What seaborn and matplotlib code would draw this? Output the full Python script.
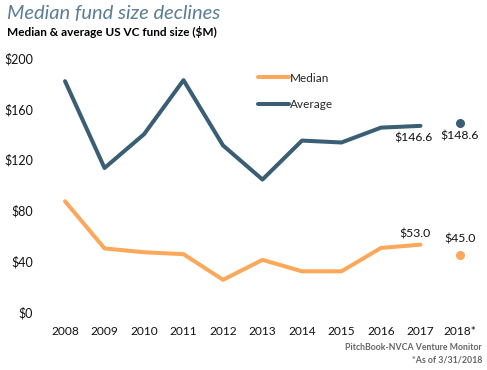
import pandas as pd
import numpy as np
import seaborn as sns
import matplotlib.pyplot as plt

years = [2008, 2009, 2010, 2011, 2012, 2013, 2014, 2015, 2016, 2017]
median = [87.2, 50.0, 47.0, 45.5, 25.3, 41.0, 32.0, 32.0, 50.4, 53.0]
average = [181.8, 113.4, 140.0, 182.6, 131.2, 104.3, 135.0, 133.5, 145.2, 146.6]
ytd_year = 2018
ytd_median = 45.0
ytd_average = 148.6
tick_labels = ['2008', '2009', '2010', '2011', '2012', '2013', '2014', '2015',
               '2016', '2017', '2018*']

ORANGE = '#FBA85B'
NAVY = '#3A5E73'

sns.set_style('white')
plt.rcParams['font.family'] = ['Lato', 'DejaVu Sans']

df = pd.DataFrame({'year': years + years,
                   'value': median + average,
                   'series': ['Median'] * len(years) + ['Average'] * len(years)})

fig = plt.figure(figsize=(4.87, 3.70), dpi=100)
ax = fig.add_axes([0.093, 0.157, 0.892, 0.686])

sns.lineplot(data=df, x='year', y='value', hue='series',
             palette={'Median': ORANGE, 'Average': NAVY},
             linewidth=2.9, ax=ax)
ax.scatter([ytd_year], [ytd_average], color=NAVY, s=30, zorder=3)
ax.scatter([ytd_year], [ytd_median], color=ORANGE, s=30, zorder=3)

ax.set_xlim(2007.5, 2018.5)
ax.set_ylim(0, 200)
ax.set_xticks(years + [ytd_year])
ax.set_xticklabels(tick_labels)
ax.set_yticks([0, 40, 80, 120, 160, 200])
ax.set_yticklabels(['$%d' % v for v in [0, 40, 80, 120, 160, 200]])
ax.tick_params(length=0, labelsize=9, colors='#111111')
ax.tick_params(axis='x', labelsize=8.6, pad=10)
ax.tick_params(axis='y', pad=9)
ax.set_xlabel('')
ax.set_ylabel('')
sns.despine(left=True, bottom=True)

# value labels
ax.text(2017.3, average[-1] - 5, '$%.1f' % average[-1], ha='right', va='top',
        fontsize=8.8, color='#111111')
ax.text(ytd_year, ytd_average - 6, '$%.1f' % ytd_average, ha='center', va='top',
        fontsize=8.8, color='#111111')
ax.text(2017 - 0.15, median[-1] + 4, '$%.1f' % median[-1], ha='center', va='bottom',
        fontsize=8.8, color='#111111')
ax.text(ytd_year, ytd_median + 8, '$%.1f' % ytd_median, ha='center', va='bottom',
        fontsize=8.8, color='#111111')

order = ['Median', 'Average']
handles, labels = ax.get_legend_handles_labels()
hmap = dict(zip(labels, handles))
ax.legend([hmap[k] for k in order], order, loc='upper left',
          bbox_to_anchor=(0.465, 0.985), frameon=False, fontsize=8.5,
          handlelength=2.6, handletextpad=0.1, labelspacing=1.35)

fig.text(0.014, 0.963, 'Median fund size declines', fontsize=14.5, style='italic',
         color='#5B7D96', va='center', ha='left')
fig.text(0.014, 0.913, 'Median & average US VC fund size ($M)', fontsize=8.5,
         fontweight='bold', color='#000000', va='center', ha='left')
fig.text(0.99, 0.061, 'PitchBook-NVCA Venture Monitor', fontsize=6.3,
         fontweight='bold', color='#666666', ha='right', va='center')
fig.text(0.99, 0.028, '*As of 3/31/2018', fontsize=6.3, fontweight='bold',
         color='#666666', ha='right', va='center')

plt.savefig('out.png', dpi=100)
